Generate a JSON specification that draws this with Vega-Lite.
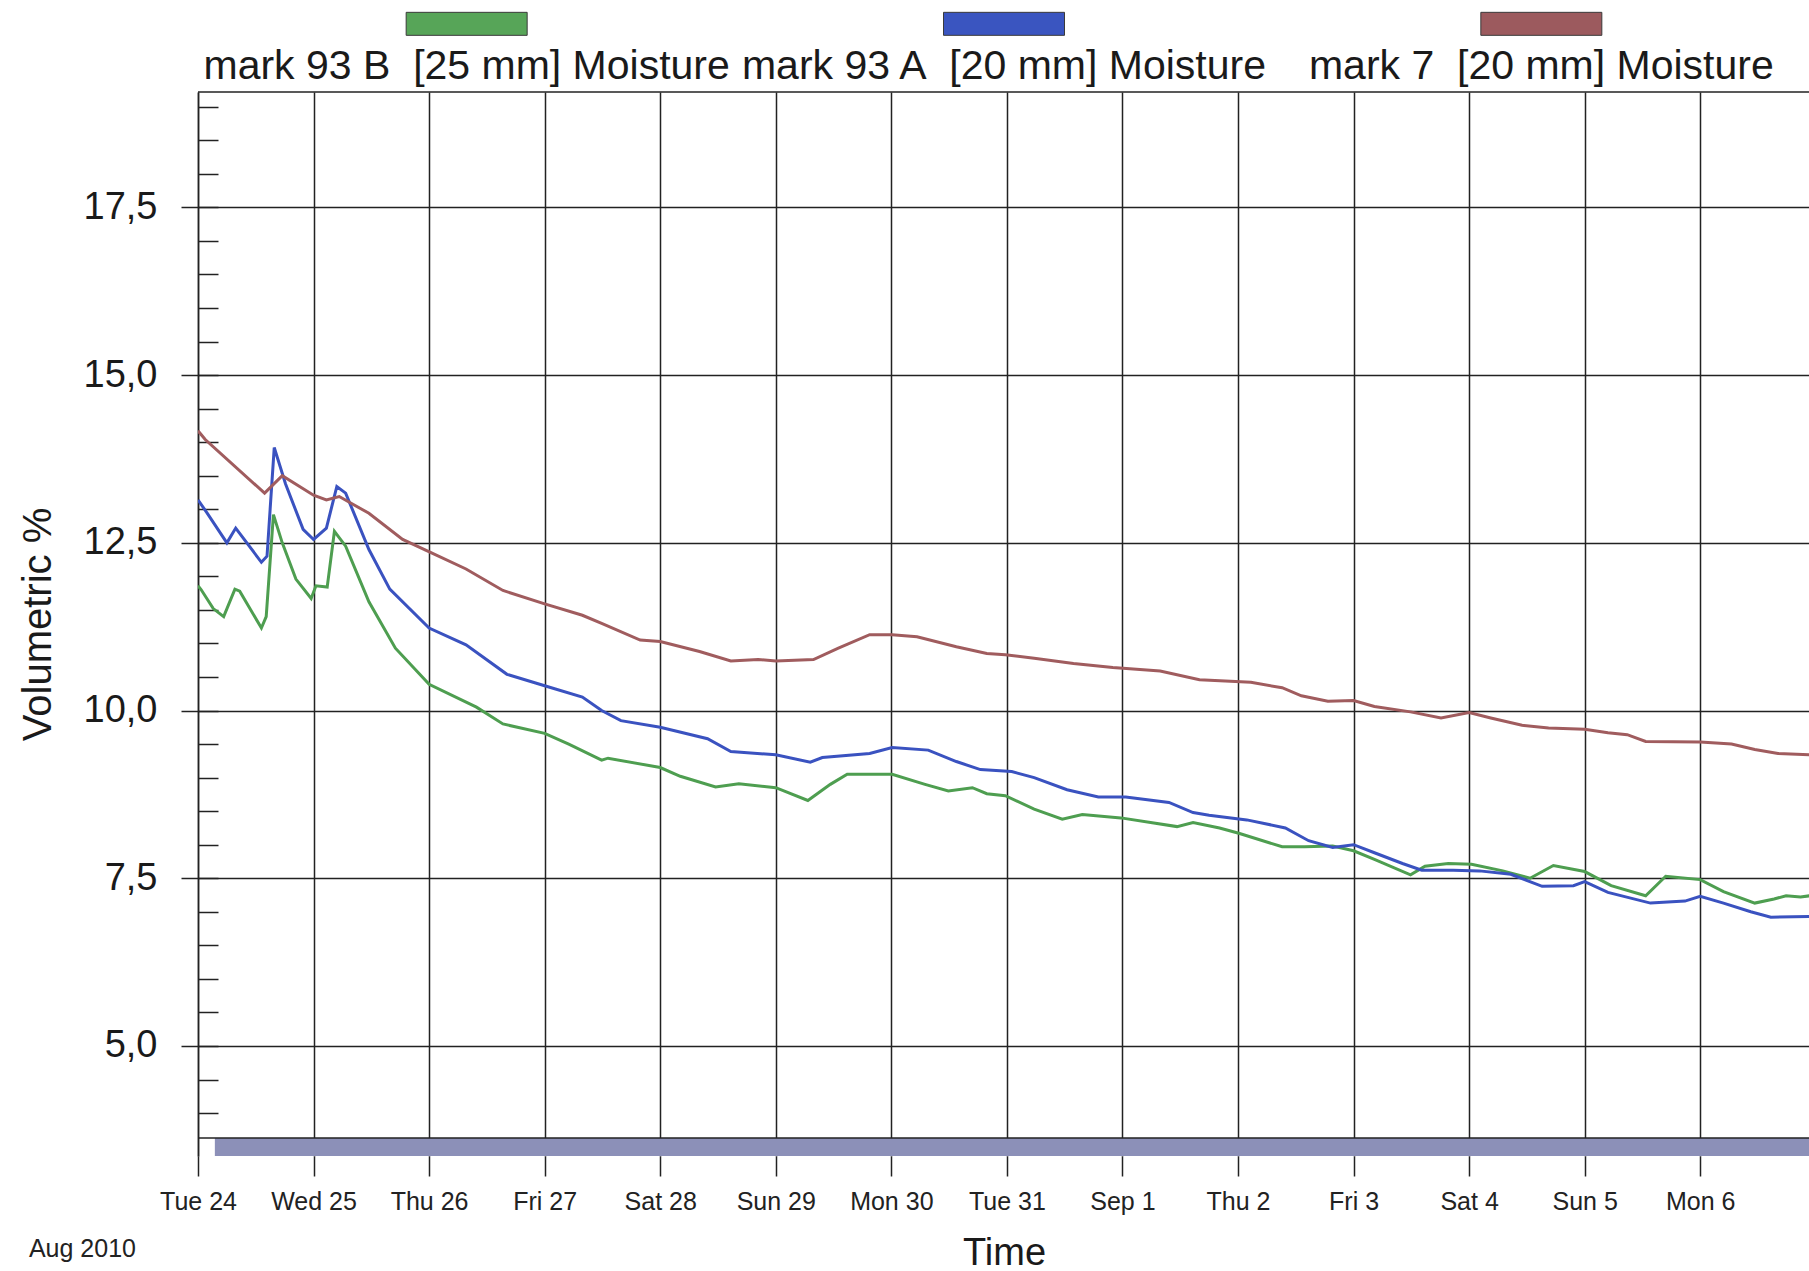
{
  "$schema": "https://vega.github.io/schema/vega-lite/v6.json",
  "padding": {"left": 18, "top": 0, "right": 0, "bottom": 0},
  "spacing": 0,
  "background": "white",
  "config": {"view": {"stroke": null}, "font": "Liberation Sans"},
  "datasets": {
    "legend": [
      {"series": "93B", "label": "mark 93 B\u00a0 [25 mm] Moisture"},
      {"series": "93A", "label": "mark 93 A\u00a0 [20 mm] Moisture"},
      {"series": "7", "label": "mark 7\u00a0 [20 mm] Moisture"}
    ],
    "band": [
      {"start": "2010-08-24T03:30:00Z", "end": "2010-09-07T00:00:00Z", "period": "Aug 2010"}
    ],
    "moisture": [
      {"series": "93B", "t": "2010-08-24T00:00:00Z", "v": 11.86},
      {"series": "93B", "t": "2010-08-24T00:40:00Z", "v": 11.80},
      {"series": "93B", "t": "2010-08-24T03:10:00Z", "v": 11.52},
      {"series": "93B", "t": "2010-08-24T05:20:00Z", "v": 11.40},
      {"series": "93B", "t": "2010-08-24T07:40:00Z", "v": 11.81},
      {"series": "93B", "t": "2010-08-24T08:40:00Z", "v": 11.78},
      {"series": "93B", "t": "2010-08-24T13:10:00Z", "v": 11.23},
      {"series": "93B", "t": "2010-08-24T14:10:00Z", "v": 11.40},
      {"series": "93B", "t": "2010-08-24T15:40:00Z", "v": 12.92},
      {"series": "93B", "t": "2010-08-24T17:30:00Z", "v": 12.50},
      {"series": "93B", "t": "2010-08-24T20:20:00Z", "v": 11.96},
      {"series": "93B", "t": "2010-08-24T23:30:00Z", "v": 11.67},
      {"series": "93B", "t": "2010-08-25T00:30:00Z", "v": 11.86},
      {"series": "93B", "t": "2010-08-25T02:50:00Z", "v": 11.84},
      {"series": "93B", "t": "2010-08-25T04:20:00Z", "v": 12.67},
      {"series": "93B", "t": "2010-08-25T06:40:00Z", "v": 12.45},
      {"series": "93B", "t": "2010-08-25T11:30:00Z", "v": 11.62},
      {"series": "93B", "t": "2010-08-25T17:00:00Z", "v": 10.93},
      {"series": "93B", "t": "2010-08-26T00:00:00Z", "v": 10.39},
      {"series": "93B", "t": "2010-08-26T09:50:00Z", "v": 10.05},
      {"series": "93B", "t": "2010-08-26T15:20:00Z", "v": 9.80},
      {"series": "93B", "t": "2010-08-27T00:00:00Z", "v": 9.66},
      {"series": "93B", "t": "2010-08-27T05:00:00Z", "v": 9.50},
      {"series": "93B", "t": "2010-08-27T11:50:00Z", "v": 9.26},
      {"series": "93B", "t": "2010-08-27T13:10:00Z", "v": 9.29},
      {"series": "93B", "t": "2010-08-28T00:00:00Z", "v": 9.15},
      {"series": "93B", "t": "2010-08-28T04:10:00Z", "v": 9.02},
      {"series": "93B", "t": "2010-08-28T11:30:00Z", "v": 8.86},
      {"series": "93B", "t": "2010-08-28T16:20:00Z", "v": 8.91},
      {"series": "93B", "t": "2010-08-29T00:00:00Z", "v": 8.85},
      {"series": "93B", "t": "2010-08-29T06:40:00Z", "v": 8.66},
      {"series": "93B", "t": "2010-08-29T11:20:00Z", "v": 8.90},
      {"series": "93B", "t": "2010-08-29T14:50:00Z", "v": 9.05},
      {"series": "93B", "t": "2010-08-30T00:10:00Z", "v": 9.05},
      {"series": "93B", "t": "2010-08-30T07:00:00Z", "v": 8.90},
      {"series": "93B", "t": "2010-08-30T11:50:00Z", "v": 8.80},
      {"series": "93B", "t": "2010-08-30T16:50:00Z", "v": 8.85},
      {"series": "93B", "t": "2010-08-30T19:50:00Z", "v": 8.76},
      {"series": "93B", "t": "2010-08-30T23:40:00Z", "v": 8.73},
      {"series": "93B", "t": "2010-08-31T05:40:00Z", "v": 8.53},
      {"series": "93B", "t": "2010-08-31T11:30:00Z", "v": 8.38},
      {"series": "93B", "t": "2010-08-31T15:40:00Z", "v": 8.45},
      {"series": "93B", "t": "2010-08-31T23:40:00Z", "v": 8.40},
      {"series": "93B", "t": "2010-09-01T11:20:00Z", "v": 8.27},
      {"series": "93B", "t": "2010-09-01T14:40:00Z", "v": 8.33},
      {"series": "93B", "t": "2010-09-01T20:10:00Z", "v": 8.25},
      {"series": "93B", "t": "2010-09-02T00:10:00Z", "v": 8.17},
      {"series": "93B", "t": "2010-09-02T09:10:00Z", "v": 7.97},
      {"series": "93B", "t": "2010-09-02T13:50:00Z", "v": 7.97},
      {"series": "93B", "t": "2010-09-02T19:40:00Z", "v": 7.98},
      {"series": "93B", "t": "2010-09-03T00:00:00Z", "v": 7.91},
      {"series": "93B", "t": "2010-09-03T04:20:00Z", "v": 7.78},
      {"series": "93B", "t": "2010-09-03T11:50:00Z", "v": 7.55},
      {"series": "93B", "t": "2010-09-03T14:50:00Z", "v": 7.68},
      {"series": "93B", "t": "2010-09-03T19:40:00Z", "v": 7.72},
      {"series": "93B", "t": "2010-09-04T00:30:00Z", "v": 7.71},
      {"series": "93B", "t": "2010-09-04T07:00:00Z", "v": 7.61},
      {"series": "93B", "t": "2010-09-04T12:40:00Z", "v": 7.50},
      {"series": "93B", "t": "2010-09-04T17:30:00Z", "v": 7.69},
      {"series": "93B", "t": "2010-09-05T00:00:00Z", "v": 7.60},
      {"series": "93B", "t": "2010-09-05T05:30:00Z", "v": 7.39},
      {"series": "93B", "t": "2010-09-05T12:40:00Z", "v": 7.24},
      {"series": "93B", "t": "2010-09-05T16:50:00Z", "v": 7.53},
      {"series": "93B", "t": "2010-09-06T00:00:00Z", "v": 7.48},
      {"series": "93B", "t": "2010-09-06T04:50:00Z", "v": 7.30},
      {"series": "93B", "t": "2010-09-06T11:20:00Z", "v": 7.13},
      {"series": "93B", "t": "2010-09-06T15:20:00Z", "v": 7.19},
      {"series": "93B", "t": "2010-09-06T17:50:00Z", "v": 7.24},
      {"series": "93B", "t": "2010-09-06T20:50:00Z", "v": 7.22},
      {"series": "93B", "t": "2010-09-06T22:50:00Z", "v": 7.24},

      {"series": "93A", "t": "2010-08-24T00:00:00Z", "v": 13.14},
      {"series": "93A", "t": "2010-08-24T01:50:00Z", "v": 12.95},
      {"series": "93A", "t": "2010-08-24T06:00:00Z", "v": 12.50},
      {"series": "93A", "t": "2010-08-24T07:50:00Z", "v": 12.72},
      {"series": "93A", "t": "2010-08-24T13:10:00Z", "v": 12.21},
      {"series": "93A", "t": "2010-08-24T14:20:00Z", "v": 12.30},
      {"series": "93A", "t": "2010-08-24T15:50:00Z", "v": 13.92},
      {"series": "93A", "t": "2010-08-24T18:10:00Z", "v": 13.38},
      {"series": "93A", "t": "2010-08-24T21:50:00Z", "v": 12.70},
      {"series": "93A", "t": "2010-08-25T00:00:00Z", "v": 12.55},
      {"series": "93A", "t": "2010-08-25T02:40:00Z", "v": 12.72},
      {"series": "93A", "t": "2010-08-25T04:50:00Z", "v": 13.34},
      {"series": "93A", "t": "2010-08-25T06:40:00Z", "v": 13.24},
      {"series": "93A", "t": "2010-08-25T11:30:00Z", "v": 12.40},
      {"series": "93A", "t": "2010-08-25T15:50:00Z", "v": 11.81},
      {"series": "93A", "t": "2010-08-26T00:00:00Z", "v": 11.23},
      {"series": "93A", "t": "2010-08-26T07:40:00Z", "v": 10.98},
      {"series": "93A", "t": "2010-08-26T16:10:00Z", "v": 10.54},
      {"series": "93A", "t": "2010-08-27T00:00:00Z", "v": 10.37},
      {"series": "93A", "t": "2010-08-27T07:50:00Z", "v": 10.20},
      {"series": "93A", "t": "2010-08-27T11:50:00Z", "v": 10.00},
      {"series": "93A", "t": "2010-08-27T15:50:00Z", "v": 9.85},
      {"series": "93A", "t": "2010-08-28T00:00:00Z", "v": 9.75},
      {"series": "93A", "t": "2010-08-28T09:50:00Z", "v": 9.58},
      {"series": "93A", "t": "2010-08-28T14:40:00Z", "v": 9.39},
      {"series": "93A", "t": "2010-08-29T00:00:00Z", "v": 9.34},
      {"series": "93A", "t": "2010-08-29T07:10:00Z", "v": 9.23},
      {"series": "93A", "t": "2010-08-29T09:40:00Z", "v": 9.30},
      {"series": "93A", "t": "2010-08-29T19:30:00Z", "v": 9.36},
      {"series": "93A", "t": "2010-08-30T00:10:00Z", "v": 9.45},
      {"series": "93A", "t": "2010-08-30T07:40:00Z", "v": 9.41},
      {"series": "93A", "t": "2010-08-30T13:30:00Z", "v": 9.24},
      {"series": "93A", "t": "2010-08-30T18:30:00Z", "v": 9.12},
      {"series": "93A", "t": "2010-08-31T01:00:00Z", "v": 9.09},
      {"series": "93A", "t": "2010-08-31T05:40:00Z", "v": 9.00},
      {"series": "93A", "t": "2010-08-31T12:30:00Z", "v": 8.82},
      {"series": "93A", "t": "2010-08-31T19:00:00Z", "v": 8.71},
      {"series": "93A", "t": "2010-09-01T00:40:00Z", "v": 8.71},
      {"series": "93A", "t": "2010-09-01T09:40:00Z", "v": 8.63},
      {"series": "93A", "t": "2010-09-01T14:40:00Z", "v": 8.48},
      {"series": "93A", "t": "2010-09-01T18:00:00Z", "v": 8.44},
      {"series": "93A", "t": "2010-09-02T01:50:00Z", "v": 8.37},
      {"series": "93A", "t": "2010-09-02T09:50:00Z", "v": 8.25},
      {"series": "93A", "t": "2010-09-02T14:40:00Z", "v": 8.06},
      {"series": "93A", "t": "2010-09-02T19:40:00Z", "v": 7.96},
      {"series": "93A", "t": "2010-09-03T00:00:00Z", "v": 8.00},
      {"series": "93A", "t": "2010-09-03T04:20:00Z", "v": 7.88},
      {"series": "93A", "t": "2010-09-03T10:10:00Z", "v": 7.72},
      {"series": "93A", "t": "2010-09-03T14:10:00Z", "v": 7.62},
      {"series": "93A", "t": "2010-09-03T20:40:00Z", "v": 7.62},
      {"series": "93A", "t": "2010-09-04T02:10:00Z", "v": 7.61},
      {"series": "93A", "t": "2010-09-04T08:40:00Z", "v": 7.56},
      {"series": "93A", "t": "2010-09-04T15:10:00Z", "v": 7.38},
      {"series": "93A", "t": "2010-09-04T21:40:00Z", "v": 7.39},
      {"series": "93A", "t": "2010-09-05T00:00:00Z", "v": 7.45},
      {"series": "93A", "t": "2010-09-05T04:50:00Z", "v": 7.29},
      {"series": "93A", "t": "2010-09-05T13:40:00Z", "v": 7.13},
      {"series": "93A", "t": "2010-09-05T20:50:00Z", "v": 7.16},
      {"series": "93A", "t": "2010-09-06T00:00:00Z", "v": 7.23},
      {"series": "93A", "t": "2010-09-06T04:50:00Z", "v": 7.13},
      {"series": "93A", "t": "2010-09-06T10:30:00Z", "v": 7.00},
      {"series": "93A", "t": "2010-09-06T14:40:00Z", "v": 6.92},
      {"series": "93A", "t": "2010-09-06T22:50:00Z", "v": 6.93},

      {"series": "7", "t": "2010-08-24T00:00:00Z", "v": 14.17},
      {"series": "7", "t": "2010-08-24T01:30:00Z", "v": 14.04},
      {"series": "7", "t": "2010-08-24T13:50:00Z", "v": 13.24},
      {"series": "7", "t": "2010-08-24T17:30:00Z", "v": 13.50},
      {"series": "7", "t": "2010-08-25T00:00:00Z", "v": 13.21},
      {"series": "7", "t": "2010-08-25T02:40:00Z", "v": 13.14},
      {"series": "7", "t": "2010-08-25T05:20:00Z", "v": 13.19},
      {"series": "7", "t": "2010-08-25T11:30:00Z", "v": 12.94},
      {"series": "7", "t": "2010-08-25T18:30:00Z", "v": 12.55},
      {"series": "7", "t": "2010-08-26T00:30:00Z", "v": 12.35},
      {"series": "7", "t": "2010-08-26T07:40:00Z", "v": 12.11},
      {"series": "7", "t": "2010-08-26T15:20:00Z", "v": 11.79},
      {"series": "7", "t": "2010-08-27T00:00:00Z", "v": 11.59},
      {"series": "7", "t": "2010-08-27T07:50:00Z", "v": 11.42},
      {"series": "7", "t": "2010-08-27T11:50:00Z", "v": 11.30},
      {"series": "7", "t": "2010-08-27T19:50:00Z", "v": 11.05},
      {"series": "7", "t": "2010-08-28T00:00:00Z", "v": 11.03},
      {"series": "7", "t": "2010-08-28T08:10:00Z", "v": 10.88},
      {"series": "7", "t": "2010-08-28T14:40:00Z", "v": 10.74},
      {"series": "7", "t": "2010-08-28T20:20:00Z", "v": 10.76},
      {"series": "7", "t": "2010-08-29T00:00:00Z", "v": 10.74},
      {"series": "7", "t": "2010-08-29T07:50:00Z", "v": 10.76},
      {"series": "7", "t": "2010-08-29T13:00:00Z", "v": 10.93},
      {"series": "7", "t": "2010-08-29T19:30:00Z", "v": 11.13},
      {"series": "7", "t": "2010-08-30T00:10:00Z", "v": 11.13},
      {"series": "7", "t": "2010-08-30T05:20:00Z", "v": 11.10},
      {"series": "7", "t": "2010-08-30T13:30:00Z", "v": 10.95},
      {"series": "7", "t": "2010-08-30T19:50:00Z", "v": 10.85},
      {"series": "7", "t": "2010-08-30T23:40:00Z", "v": 10.83},
      {"series": "7", "t": "2010-08-31T05:40:00Z", "v": 10.78},
      {"series": "7", "t": "2010-08-31T13:50:00Z", "v": 10.70},
      {"series": "7", "t": "2010-08-31T22:00:00Z", "v": 10.64},
      {"series": "7", "t": "2010-09-01T07:50:00Z", "v": 10.59},
      {"series": "7", "t": "2010-09-01T16:00:00Z", "v": 10.46},
      {"series": "7", "t": "2010-09-02T02:40:00Z", "v": 10.42},
      {"series": "7", "t": "2010-09-02T09:10:00Z", "v": 10.34},
      {"series": "7", "t": "2010-09-02T13:10:00Z", "v": 10.22},
      {"series": "7", "t": "2010-09-02T18:40:00Z", "v": 10.14},
      {"series": "7", "t": "2010-09-03T00:00:00Z", "v": 10.15},
      {"series": "7", "t": "2010-09-03T04:20:00Z", "v": 10.06},
      {"series": "7", "t": "2010-09-03T11:50:00Z", "v": 9.98},
      {"series": "7", "t": "2010-09-03T18:10:00Z", "v": 9.89},
      {"series": "7", "t": "2010-09-04T00:00:00Z", "v": 9.97},
      {"series": "7", "t": "2010-09-04T04:30:00Z", "v": 9.89},
      {"series": "7", "t": "2010-09-04T11:00:00Z", "v": 9.78},
      {"series": "7", "t": "2010-09-04T16:30:00Z", "v": 9.74},
      {"series": "7", "t": "2010-09-05T00:00:00Z", "v": 9.72},
      {"series": "7", "t": "2010-09-05T04:50:00Z", "v": 9.67},
      {"series": "7", "t": "2010-09-05T08:50:00Z", "v": 9.64},
      {"series": "7", "t": "2010-09-05T12:40:00Z", "v": 9.54},
      {"series": "7", "t": "2010-09-06T00:00:00Z", "v": 9.53},
      {"series": "7", "t": "2010-09-06T06:30:00Z", "v": 9.50},
      {"series": "7", "t": "2010-09-06T11:20:00Z", "v": 9.42},
      {"series": "7", "t": "2010-09-06T16:10:00Z", "v": 9.36},
      {"series": "7", "t": "2010-09-06T22:50:00Z", "v": 9.34}
    ]
  },
  "vconcat": [
    {
      "width": 1612,
      "height": 91,
      "data": {"name": "legend"},
      "encoding": {
        "x": {"field": "series", "type": "nominal", "sort": null, "scale": {"type": "band", "paddingInner": 0, "paddingOuter": 0}, "axis": null}
      },
      "layer": [
        {
          "mark": {"type": "point", "shape": "M-1,-0.19H1V0.19H-1Z", "size": 14641, "filled": true, "opacity": 1, "stroke": "#3a3a3a", "strokeWidth": 1},
          "encoding": {
            "y": {"datum": "swatch", "type": "ordinal", "scale": {"domain": ["swatch", "label"], "padding": 0.55}, "axis": null},
            "fill": {"field": "series", "type": "nominal", "scale": {"domain": ["93B", "93A", "7"], "range": ["#57a558", "#3a55c0", "#9c5a5e"]}, "legend": null}
          }
        },
        {
          "mark": {"type": "text", "fontSize": 41, "font": "Liberation Sans", "baseline": "middle", "align": "center", "color": "#1a1a1a"},
          "encoding": {
            "y": {"datum": "label", "type": "ordinal", "axis": null},
            "text": {"field": "label"}
          }
        }
      ]
    },
    {
      "width": 1612,
      "height": 1064,
      "resolve": {"axis": {"y": "independent"}},
      "layer": [
        {
          "data": {"name": "band"},
          "mark": {"type": "rect", "color": "#8c90b8", "clip": true},
          "encoding": {
            "x": {"field": "start", "type": "temporal"},
            "x2": {"field": "end"},
            "y": {"datum": 3.36, "type": "quantitative", "axis": null},
            "y2": {"datum": 3.63}
          }
        },
        {
          "data": {"name": "moisture"},
          "mark": {"type": "line", "strokeWidth": 3, "clip": true},
          "encoding": {
            "x": {
              "field": "t", "type": "temporal",
              "scale": {"type": "utc", "domain": [{"year": 2010, "month": 8, "date": 24, "utc": true}, {"year": 2010, "month": 9, "date": 6, "hours": 22, "minutes": 48, "utc": true}]},
              "axis": {
                "title": "Time", "titleFontSize": 38, "titleFont": "Liberation Sans", "titleFontWeight": "normal", "titleColor": "#1a1a1a", "titlePadding": 20,
                "tickCount": {"interval": "day", "step": 1},
                "grid": true, "gridColor": "#222222", "gridWidth": 1.5, "gridOpacity": 1,
                "ticks": true, "tickSize": 20, "tickColor": "#222222", "tickWidth": 1.5,
                "domain": false,
                "labelExpr": "utcFormat(datum.value, '%d') == '01' ? utcFormat(datum.value, '%b %-d') : utcFormat(datum.value, '%a %-d')",
                "labelFontSize": 25, "labelFont": "Liberation Sans", "labelColor": "#222222", "labelPadding": 13,
                "labelFlush": false, "labelOverlap": false, "labelBound": false
              }
            },
            "y": {
              "field": "v", "type": "quantitative",
              "scale": {"domain": [3.36, 19.22], "nice": false, "zero": false},
              "axis": {
                "title": "Volumetric %", "titleFontSize": 40, "titleFont": "Liberation Sans", "titleFontWeight": "normal", "titleColor": "#1a1a1a", "titlePadding": 25,
                "values": [5, 7.5, 10, 12.5, 15, 17.5],
                "grid": true, "gridColor": "#222222", "gridWidth": 1.5, "gridOpacity": 1,
                "ticks": true, "tickSize": 17, "tickColor": "#222222", "tickWidth": 1.5,
                "domain": true, "domainColor": "#222222", "domainWidth": 1.5,
                "labelExpr": "replace(format(datum.value, '.1f'), '.', ',')",
                "labelFontSize": 38, "labelFont": "Liberation Sans", "labelColor": "#1a1a1a", "labelPadding": 24
              }
            },
            "color": {"field": "series", "type": "nominal", "scale": {"domain": ["93B", "93A", "7"], "range": ["#4e9e50", "#3a52c0", "#a05c5e"]}, "legend": null}
          }
        },
        {
          "data": {"name": "band"},
          "mark": {"type": "rule", "color": "#222222", "strokeWidth": 1.5},
          "encoding": {
            "y": {
              "datum": 3.63, "type": "quantitative",
              "axis": {
                "orient": "right", "offset": -1612, "title": null,
                "values": [4, 4.5, 5, 5.5, 6, 6.5, 7, 7.5, 8, 8.5, 9, 9.5, 10, 10.5, 11, 11.5, 12, 12.5, 13, 13.5, 14, 14.5, 15, 15.5, 16, 16.5, 17, 17.5, 18, 18.5, 19],
                "labels": false, "domain": false, "grid": false,
                "ticks": true, "tickSize": 20, "tickColor": "#222222", "tickWidth": 1.5
              }
            }
          }
        },
        {
          "data": {"name": "band"},
          "mark": {"type": "rule", "color": "#222222", "strokeWidth": 1.5},
          "encoding": {
            "y": {"datum": 19.22, "type": "quantitative", "axis": null}
          }
        },
        {
          "data": {"name": "band"},
          "mark": {"type": "text", "fontSize": 25, "font": "Liberation Sans", "align": "center", "baseline": "middle", "color": "#222222"},
          "encoding": {
            "x": {"datum": {"year": 2010, "month": 8, "date": 23, "utc": true}, "type": "temporal"},
            "y": {"datum": 1.98, "type": "quantitative", "axis": null},
            "text": {"field": "period"}
          }
        }
      ]
    }
  ]
}
